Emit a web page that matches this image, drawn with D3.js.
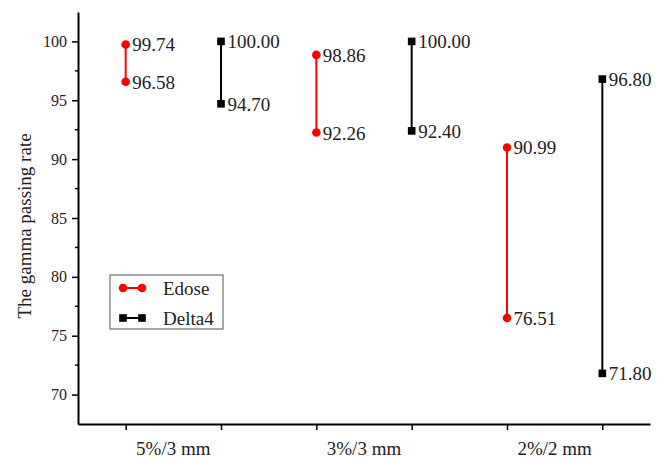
<!DOCTYPE html>
<html><head><meta charset="utf-8">
<script src="https://cdn.jsdelivr.net/npm/d3@7"></script>
<style>body{margin:0;background:#fff;} text{font-family:"Liberation Serif","Times New Roman",serif;}</style>
</head><body>
<svg id="c" width="664" height="462"></svg>
<script>
const categories = ["5%/3 mm", "3%/3 mm", "2%/2 mm"];
const edoseMax = [99.74, 98.86, 90.99];
const edoseMin = [96.58, 92.26, 76.51];
const delta4Max = [100.00, 100.00, 96.80];
const delta4Min = [94.70, 92.40, 71.80];
const yTicks = [70, 75, 80, 85, 90, 95, 100];
const seriesNames = ["Edose", "Delta4"];
const seriesColors = ["#ff0000", "#000000"];

(function () {
const svg = d3.select("#c");
const mL = 78, mR = 650, mT = 12, mB = 424;
const x = d3.scaleLinear().domain([0.5, 6.5]).range([mL, mR]);
const y = d3.scaleLinear().domain([67.5, 102.5]).range([mB, mT]);

const yAxis = d3.axisLeft(y).tickValues(yTicks).tickSize(6).tickSizeOuter(0).tickPadding(5).tickFormat(d3.format("d"));
const gy = svg.append("g").attr("transform", `translate(${mL},0)`).call(yAxis);
const minor = d3.range(67.5, 102.6, 2.5).filter(v => !yTicks.includes(v) && v > 67.5 && v < 102.5);
gy.selectAll(".minor").data(minor).enter().append("line")
  .attr("x1", 0).attr("x2", -3).attr("y1", d => y(d)).attr("y2", d => y(d)).attr("stroke", "#000").attr("stroke-width", 1.5);
gy.select(".domain").attr("stroke-width", 2);
gy.selectAll(".tick line").attr("stroke-width", 1.5);
gy.selectAll(".tick text").attr("font-size", 16).attr("fill", "#222");

const xAxis = d3.axisBottom(x).tickValues([1,2,3,4,5,6]).tickSize(6).tickSizeOuter(0).tickFormat("");
const gx = svg.append("g").attr("transform", `translate(0,${mB})`).call(xAxis);
gx.select(".domain").attr("stroke-width", 2);
gx.selectAll(".tick line").attr("stroke-width", 1.5);

svg.selectAll(".catlab").data(categories).enter().append("text")
  .attr("x", (d, i) => x(2 * i + 1.5)).attr("y", 455)
  .attr("text-anchor", "middle").attr("font-size", 19).attr("fill", "#222").text(d => d);

svg.append("text").attr("transform", `translate(31,226) rotate(-90)`)
  .attr("text-anchor", "middle").attr("font-size", 19).attr("fill", "#222").text("The gamma passing rate");

const series = [
  {name: seriesNames[0], color: seriesColors[0], max: edoseMax, min: edoseMin, off: 1, shape: "circle"},
  {name: seriesNames[1], color: seriesColors[1], max: delta4Max, min: delta4Min, off: 2, shape: "square"}
];
function marker(g, shape, cx, cy, color) {
  if (shape === "circle") g.append("circle").attr("cx", cx).attr("cy", cy).attr("r", 4.3).attr("fill", color);
  else g.append("rect").attr("x", cx - 3.8).attr("y", cy - 3.8).attr("width", 7.6).attr("height", 7.6).attr("fill", color);
}
series.forEach(s => {
  const g = svg.append("g");
  categories.forEach((c, i) => {
    const xv = x(2 * i + s.off);
    g.append("line").attr("x1", xv).attr("x2", xv).attr("y1", y(s.max[i])).attr("y2", y(s.min[i]))
      .attr("stroke", s.color).attr("stroke-width", 2);
    [s.max[i], s.min[i]].forEach(v => {
      marker(g, s.shape, xv, y(v), s.color);
      g.append("text").attr("x", xv + 6.5).attr("y", y(v) + 7).attr("font-size", 19).attr("fill", "#222").text(v.toFixed(2));
    });
  });
});

const lg = svg.append("g");
lg.append("rect").attr("x", 110).attr("y", 275).attr("width", 113).attr("height", 54)
  .attr("fill", "#fff").attr("stroke", "#555").attr("stroke-width", 1);
series.forEach((s, i) => {
  const ly = 288 + i * 30;
  lg.append("line").attr("x1", 123).attr("x2", 142).attr("y1", ly).attr("y2", ly).attr("stroke", s.color).attr("stroke-width", 2);
  marker(lg, s.shape, 123, ly, s.color);
  marker(lg, s.shape, 142, ly, s.color);
  lg.append("text").attr("x", 163).attr("y", ly + 7).attr("font-size", 19).attr("fill", "#222").text(s.name);
});
})();
</script>
</body></html>
